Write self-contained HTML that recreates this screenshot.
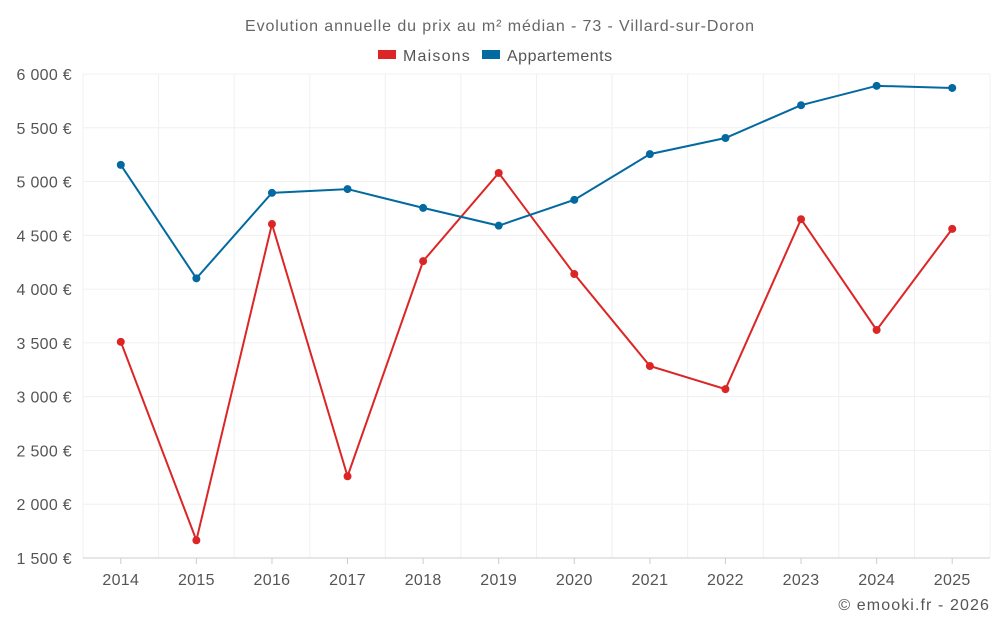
<!DOCTYPE html>
<html><head><meta charset="utf-8">
<style>
body{margin:0;background:#fff;font-family:"Liberation Sans",sans-serif;}
svg text{font-family:"Liberation Sans",sans-serif;}
</style></head>
<body>
<svg id="chart" width="1000" height="625" viewBox="0 0 1000 625" xmlns="http://www.w3.org/2000/svg">
<text x="500" y="31" text-anchor="middle" font-size="16" letter-spacing="0.9" fill="#666">Evolution annuelle du prix au m² médian - 73 - Villard-sur-Doron</text>
<g>
<g><rect x="378" y="50" width="18" height="9" fill="#dc2626"/><text x="403" y="61" font-size="16" letter-spacing="1.2" fill="#555">Maisons</text></g>
<g><rect x="482" y="50" width="18" height="9" fill="#0369a1"/><text x="507" y="61" font-size="16" letter-spacing="0.5" fill="#555">Appartements</text></g>
</g>
<g id="grid"></g>
<g id="axes"></g>
<g id="series"></g>
<text x="990" y="610" text-anchor="end" font-size="16" letter-spacing="1.1" fill="#555">© emooki.fr - 2026</text>
</svg>
<script>
const years = ['2014','2015','2016','2017','2018','2019','2020','2021','2022','2023','2024','2025'];
const maisons = [3510,1665,4605,2260,4260,5080,4140,3285,3070,4650,3620,4560];
const appartements = [5155,4100,4895,4930,4755,4590,4830,5255,5405,5710,5890,5870];
const yTicks = [1500,2000,2500,3000,3500,4000,4500,5000,5500,6000];
const yLabels = ['1 500 €','2 000 €','2 500 €','3 000 €','3 500 €','4 000 €','4 500 €','5 000 €','5 500 €','6 000 €'];

const L=83,R=990,T=74,B=558,yMin=1500,yMax=6000;
const step=(R-L)/years.length;
const x=i=>L+step*(i+0.5);
const y=v=>B-(v-yMin)/(yMax-yMin)*(B-T);
const NS='http://www.w3.org/2000/svg';
function mk(tag,attrs,parent){const e=document.createElementNS(NS,tag);for(const k in attrs)e.setAttribute(k,attrs[k]);parent.appendChild(e);return e;}
const grid=document.getElementById('grid'),axes=document.getElementById('axes'),series=document.getElementById('series');
yTicks.forEach((t,i)=>{
  const l=mk('line',{x1:L,x2:R,y1:y(t),y2:y(t),stroke:'#f0f0f0','stroke-width':1},grid);
  
  
  const tx=mk('text',{x:72,y:y(t)+6,'text-anchor':'end','font-size':16,'letter-spacing':0.3,fill:'#555'},axes);
  tx.textContent=yLabels[i];
  
  
});
for(let i=0;i<=years.length;i++){
  const l=mk('line',{x1:L+step*i,x2:L+step*i,y1:T,y2:B,stroke:'#f0f0f0','stroke-width':1},grid);
  
  
}
const ax=mk('line',{x1:L,x2:R,y1:B,y2:B,stroke:'#ccc','stroke-width':1},axes);


years.forEach((yr,i)=>{
  const tk=mk('line',{x1:x(i),x2:x(i),y1:B,y2:B+6,stroke:'#ccc'},axes);
  
  
  const tx=mk('text',{x:x(i),y:585,'text-anchor':'middle','font-size':16,'letter-spacing':0.3,fill:'#555'},axes);
  tx.textContent=yr;
  
  
});
function draw(vals,color,name){
  const p=mk('polyline',{points:vals.map((v,i)=>x(i)+','+y(v)).join(' '),fill:'none',stroke:color,'stroke-width':2},series);
  
  
  vals.forEach((v,i)=>{
    const c=mk('circle',{cx:x(i),cy:y(v),r:4,fill:color},series);
    
    
  });
}
draw(maisons,'#dc2626','maisons');
draw(appartements,'#0369a1','appartements');
</script>
</body></html>
